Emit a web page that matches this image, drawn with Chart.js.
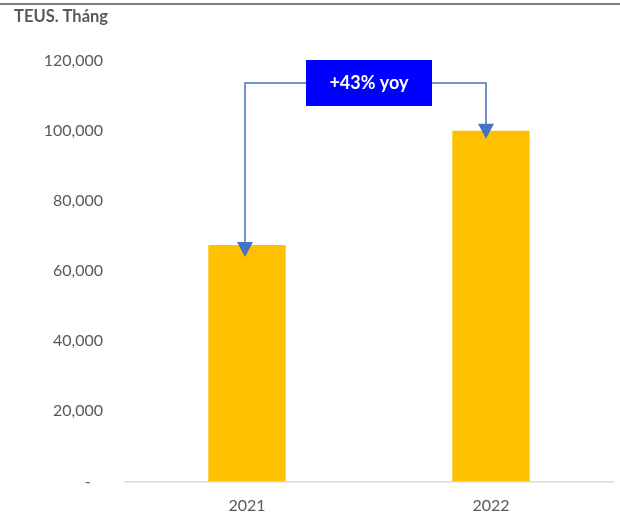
<!DOCTYPE html>
<html>
<head>
  <title>TEUS per month 2021 - 2022</title>
  <script src="https://cdn.jsdelivr.net/npm/chart.js"></script>
  <style>
    html, body {
      margin: 0;
      padding: 0;
      background: #fff;
    }
    #wrap {
      position: relative;
      width: 620px;
      height: 514px;
    }
  </style>
</head>
<body>
  <div id="wrap">
    <canvas id="teuChart" width="620" height="514"></canvas>
  </div>

  <script>
    // data
    const years = ['2021', '2022'];
    const teus = [67400, 100000];
    const yTicks = [0, 20000, 40000, 60000, 80000, 100000, 120000];
    const unitLabel = 'TEUS. Tháng';
    const growthLabel = '+43% yoy';

    const FONT = 'Lato, "Open Sans", sans-serif';
    const GREY = '#595959';
    const LINE_BLUE = '#4472C4';

    // top border, title, and the yoy bracket with arrows
    const extras = {
      id: 'extras',
      beforeDraw(chart) {
        const ctx = chart.ctx;
        ctx.save();
        ctx.fillStyle = '#7f7f7f';
        ctx.fillRect(0, 3, chart.width, 2);
        ctx.restore();
      },
      afterDraw(chart) {
        const ctx = chart.ctx;
        const xs = chart.scales.x;
        const ys = chart.scales.y;
        const area = chart.chartArea;

        ctx.save();
        ctx.fillStyle = GREY;
        ctx.font = 'bold 16.5px ' + FONT;
        ctx.textBaseline = 'middle';
        ctx.textAlign = 'left';
        ctx.fillText(unitLabel, 14, 17);

        const x1 = xs.getPixelForValue(0) - 2;
        const x2 = xs.getPixelForValue(1) - 5;
        const top1 = ys.getPixelForValue(teus[0]) + 12;
        const top2 = ys.getPixelForValue(teus[1]) + 8;
        const lineY = area.top + 22.5;
        const mid = (xs.getPixelForValue(0) + xs.getPixelForValue(1)) / 2;

        ctx.strokeStyle = LINE_BLUE;
        ctx.fillStyle = LINE_BLUE;
        ctx.lineWidth = 1.5;
        ctx.beginPath();
        ctx.moveTo(x1, top1 - 14);
        ctx.lineTo(x1, lineY);
        ctx.lineTo(x2, lineY);
        ctx.lineTo(x2, top2 - 14);
        ctx.stroke();

        [[x1, top1], [x2, top2]].forEach(([x, tip]) => {
          ctx.beginPath();
          ctx.moveTo(x - 8, tip - 15);
          ctx.lineTo(x + 8, tip - 15);
          ctx.lineTo(x, tip);
          ctx.closePath();
          ctx.fill();
        });

        const bw = 126, bh = 46;
        ctx.fillStyle = '#0000FF';
        ctx.fillRect(mid - bw / 2, lineY - 23, bw, bh);
        ctx.fillStyle = '#ffffff';
        ctx.font = 'bold 18px ' + FONT;
        ctx.textAlign = 'center';
        ctx.fillText(growthLabel, mid, lineY);
        ctx.restore();
      }
    };

    const ctx = document.getElementById('teuChart').getContext('2d');
    const chart = new Chart(ctx, {
      type: 'bar',
      data: {
        labels: years,
        datasets: [{
          data: teus,
          backgroundColor: '#FFC000',
          borderWidth: 0,
          categoryPercentage: 1,
          barPercentage: 0.317
        }]
      },
      options: {
        responsive: false,
        animation: false,
        layout: {
          padding: { top: 60.5, right: 7, bottom: 0, left: 0 }
        },
        plugins: {
          legend: { display: false },
          tooltip: { enabled: false }
        },
        scales: {
          x: {
            grid: { display: false, drawTicks: false },
            border: { display: true, color: '#d9d9d9', width: 1.5 },
            ticks: {
              color: GREY,
              font: { family: FONT, size: 16 },
              padding: 15
            },
            afterFit(scale) { scale.height = 32.5; }
          },
          y: {
            min: 0,
            max: 120000,
            afterBuildTicks(scale) {
              scale.ticks = yTicks.map(v => ({ value: v }));
            },
            grid: { display: false, drawTicks: false },
            border: { display: false },
            ticks: {
              color: GREY,
              font: { family: FONT, size: 16 },
              padding: 22,
              callback: v => v === 0 ? '-   ' : v.toLocaleString('en-US')
            },
            afterFit(scale) { scale.width = 125; }
          }
        }
      },
      plugins: [extras]
    });
  </script>
</body>
</html>
